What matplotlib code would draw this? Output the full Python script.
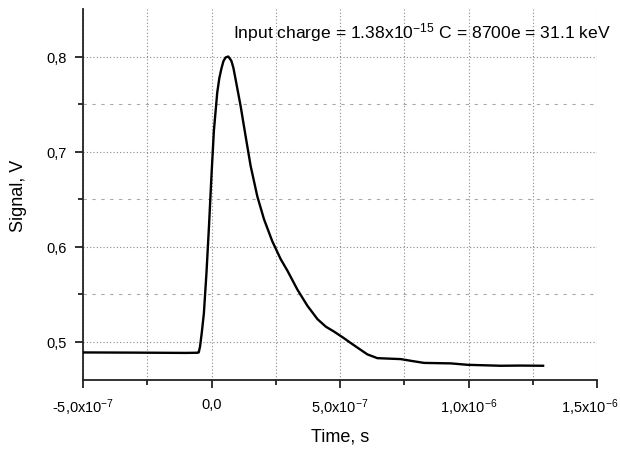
import numpy as np
import matplotlib as mpl
mpl.use('Agg')
import matplotlib.pyplot as plt
from matplotlib.ticker import MultipleLocator, FixedLocator
from matplotlib.transforms import ScaledTranslation

#------------- Matplotlib settings -------------#
mpl.rcParams['font.family'] = 'Liberation Sans'
mpl.rcParams['mathtext.fontset'] = 'custom'
mpl.rcParams['mathtext.rm'] = 'Liberation Sans'
mpl.rcParams['mathtext.it'] = 'Liberation Sans'
mpl.rcParams['mathtext.bf'] = 'Liberation Sans:bold'

# Pulse (time in s, signal in V)
time_s = np.array([
    -5.0e-7, -3.0e-7, -1.0e-7, -5.5e-8, -5.0e-8, -4.5e-8, -3.8e-8, -3.0e-8,
    -2.0e-8, -1.0e-8, 0.0, 0.9e-8, 2.2e-8, 3.0e-8, 3.8e-8, 4.6e-8,
    5.45e-8, 6.5e-8, 7.7e-8, 8.5e-8, 9.35e-8, 11.3e-8, 13.2e-8, 15.2e-8,
    17.8e-8, 20.4e-8, 23.6e-8, 26.9e-8, 29.5e-8, 33.4e-8, 37.3e-8, 41.2e-8,
    44.5e-8, 47.6e-8, 51.5e-8, 54.1e-8, 56.8e-8, 60.6e-8, 64.5e-8, 69.0e-8,
    73.6e-8, 78.0e-8, 82.7e-8, 93.1e-8, 99.6e-8, 112.6e-8, 120.0e-8, 129.0e-8,
])
signal_v = np.array([
    0.489, 0.4888, 0.4885, 0.4887, 0.489, 0.495, 0.510, 0.530,
    0.572, 0.622, 0.677, 0.722, 0.762, 0.777, 0.787, 0.795,
    0.799, 0.800, 0.7955, 0.788, 0.776, 0.748, 0.717, 0.685,
    0.653, 0.629, 0.606, 0.587, 0.575, 0.555, 0.538, 0.524,
    0.516, 0.511, 0.504, 0.499, 0.494, 0.487, 0.483, 0.4825,
    0.482, 0.480, 0.478, 0.4775, 0.476, 0.475, 0.4752, 0.475,
])

x_ticks = [-5e-7, 0.0, 5e-7, 1e-6, 1.5e-6]
x_tick_labels = [r'-5,0x10$^{-7}$', '0,0', r'5,0x10$^{-7}$',
                 r'1,0x10$^{-6}$', r'1,5x10$^{-6}$']
y_ticks = [0.5, 0.6, 0.7, 0.8]
y_tick_labels = ['0,5', '0,6', '0,7', '0,8']

annotation = r'Input charge = 1.38x10$^{-15}$ C = 8700e = 31.1 keV'


def main():
    fig = plt.figure(figsize=(6.2, 4.52), dpi=100)
    ax = fig.add_axes([0.134, 0.157, 0.829, 0.821])

    ax.plot(time_s, signal_v, color='black', linewidth=1.7, linestyle='-',
            solid_joinstyle='round', zorder=5)

    ax.set_xlim(-5e-7, 1.5e-6)
    ax.set_ylim(0.46, 0.85)

    ax.xaxis.set_major_locator(FixedLocator(x_ticks))
    ax.set_xticklabels(x_tick_labels)
    ax.xaxis.set_minor_locator(MultipleLocator(2.5e-7))
    ax.yaxis.set_major_locator(FixedLocator(y_ticks))
    ax.set_yticklabels(y_tick_labels)
    ax.yaxis.set_minor_locator(FixedLocator([0.55, 0.65, 0.75]))

    # Grid: dotted on majors, sparse dashes on minor y
    ax.grid(which='major', color='#888888', linestyle=(0, (1, 2)), linewidth=0.8)
    ax.xaxis.grid(which='minor', color='#888888', linestyle=(0, (1, 2)), linewidth=0.8)
    ax.yaxis.grid(which='minor', color='#aaaaaa', linestyle=(0, (3, 5)), linewidth=0.8)

    for side in ('top', 'right'):
        ax.spines[side].set_visible(False)
    for side in ('left', 'bottom'):
        ax.spines[side].set_linewidth(1.3)
        ax.spines[side].set_color('#222222')

    ax.tick_params(which='major', direction='out', length=6, width=1.3,
                   color='#222222', labelsize=10.5, pad=6)
    ax.tick_params(which='minor', direction='out', length=3.5, width=1.3,
                   color='#222222')

    # last x label sits a little left of its tick, as in the original
    last = ax.get_xticklabels()[-1]
    last.set_transform(last.get_transform() +
                       ScaledTranslation(-7 / 100, 0, fig.dpi_scale_trans))

    ax.set_xlabel('Time, s', fontsize=13, labelpad=7)
    ax.set_ylabel('Signal, V', fontsize=13, labelpad=14)

    ax.text(0.66, 0.938, annotation, transform=ax.transAxes, ha='center',
            va='center', fontsize=12.6)

    fig.savefig('out.png', dpi=100)


if __name__ == '__main__':
    main()
